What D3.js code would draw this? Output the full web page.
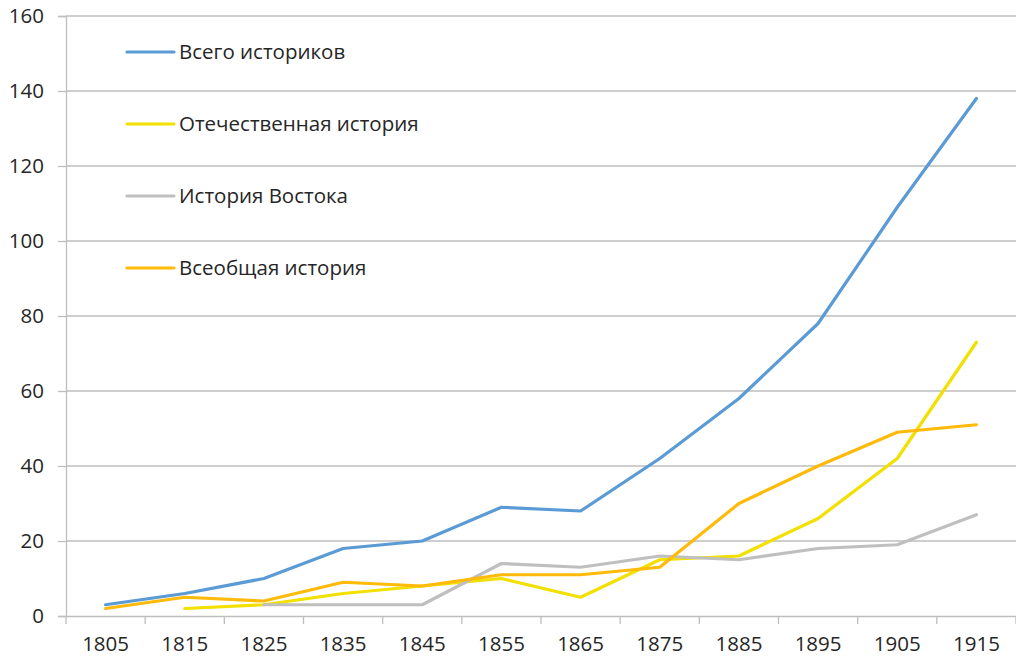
<!DOCTYPE html>
<html><head><meta charset="utf-8">
<script src="https://cdn.jsdelivr.net/npm/d3@7"></script>
<style>
html,body{margin:0;padding:0;background:#fff;}
svg{display:block;font-family:"Open Sans","Noto Sans",sans-serif;}
</style></head>
<body>
<svg id="chart" width="1016" height="658"></svg>
<script>
const years = ["1805","1815","1825","1835","1845","1855","1865","1875","1885","1895","1905","1915"];
const seriesNames = ["Всего историков","Отечественная история","История Востока","Всеобщая история"];
const total    = [3, 6, 10, 18, 20, 29, 28, 42, 58, 78, 109, 138];
const domestic = [null, 2, 3, 6, 8, 10, 5, 15, 16, 26, 42, 73];
const eastern  = [null, null, 3, 3, 3, 14, 13, 16, 15, 18, 19, 27];
const general  = [2, 5, 4, 9, 8, 11, 11, 13, 30, 40, 49, 51];
const yTicks = [0, 20, 40, 60, 80, 100, 120, 140, 160];
const colors = ["#5B9BD5", "#F2E000", "#BFBFBF", "#FFBA0A"];

(function () {
const series = [total, domestic, eastern, general];
const svg = d3.select("#chart");
const mLeft = 66, mRight = 1016, mTop = 16, mBottom = 616;
const fs = 20.5;

const x = d3.scaleBand().domain(years).range([mLeft, mRight]).paddingInner(0).paddingOuter(0);
const y = d3.scaleLinear().domain([0, 160]).range([mBottom, mTop]);

// gridlines
svg.append("g").selectAll("line").data(yTicks.filter(d => d > 0)).join("line")
  .attr("x1", mLeft).attr("x2", mRight)
  .attr("y1", d => y(d)).attr("y2", d => y(d))
  .attr("stroke", "#BEBEBE").attr("stroke-width", 1.3);

// y axis
const yAxis = svg.append("g").attr("transform", `translate(${mLeft},0)`)
  .call(d3.axisLeft(y).tickValues(yTicks).tickSize(8).tickPadding(14));
yAxis.select(".domain").attr("stroke", "#BEBEBE").attr("stroke-width", 1.3);
yAxis.selectAll(".tick line").attr("stroke", "#BEBEBE").attr("stroke-width", 1.3);
yAxis.selectAll("text").attr("font-size", fs).attr("fill", "#262626").attr("font-family", '"Open Sans",sans-serif');

// x axis
const xAxis = svg.append("g").attr("transform", `translate(0,${mBottom})`)
  .call(d3.axisBottom(x).tickSize(0).tickPadding(20));
xAxis.select(".domain").attr("stroke", "#BEBEBE").attr("stroke-width", 1.3);
xAxis.selectAll("text").attr("font-size", fs).attr("fill", "#262626").attr("font-family", '"Open Sans",sans-serif');
// category boundary ticks
const bounds = years.map(d => x(d)).concat([mRight]);
svg.append("g").selectAll("line").data(bounds).join("line")
  .attr("x1", d => d).attr("x2", d => d)
  .attr("y1", mBottom).attr("y2", mBottom + 8)
  .attr("stroke", "#BEBEBE").attr("stroke-width", 1.3);

// lines
const line = d3.line()
  .defined(d => d.v !== null)
  .x(d => x(d.year) + x.bandwidth() / 2)
  .y(d => y(d.v));

series.forEach((s, i) => {
  const pts = years.map((yr, j) => ({year: yr, v: s[j]}));
  svg.append("path").datum(pts)
    .attr("d", line)
    .attr("fill", "none")
    .attr("stroke", colors[i])
    .attr("stroke-width", 3.2)
    .attr("stroke-linejoin", "round")
    .attr("stroke-linecap", "round");
});

// legend
const lg = svg.append("g");
seriesNames.forEach((name, i) => {
  const ly = 52 + i * 72;
  lg.append("line").attr("x1", 127).attr("x2", 174).attr("y1", ly).attr("y2", ly)
    .attr("stroke", colors[i]).attr("stroke-width", 3.2).attr("stroke-linecap", "round");
  lg.append("text").attr("x", 179).attr("y", ly).attr("dy", "0.35em")
    .attr("font-size", fs).attr("fill", "#262626").text(name);
});
})();
</script>
</body></html>
